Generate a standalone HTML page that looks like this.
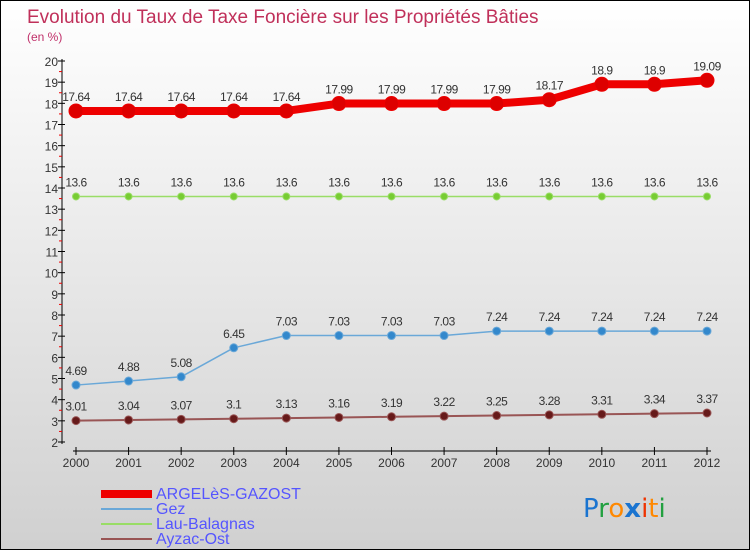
<!DOCTYPE html>
<html><head><meta charset="utf-8"><style>
body{margin:0}
#c{width:748px;height:548px;border:1px solid #000;background:linear-gradient(#ffffff,#d0d0d0);position:relative;font-family:"Liberation Sans",sans-serif;overflow:hidden}
</style></head><body>
<div id="c">
<svg id="s" width="748" height="548">
<text x="26" y="22" font-size="19" fill="#c0305a">Evolution du Taux de Taxe Foncière sur les Propriétés Bâties</text>
<text x="26" y="40" font-size="12" fill="#c0306a">(en %)</text>
<g id="axes"></g><g id="series"></g>
<g font-size="16" fill="#5555ff">
<rect x="100" y="489" width="51" height="8" fill="#ee0000"/>
<text x="155" y="498">ARGELèS-GAZOST</text>
<rect x="100" y="507" width="51" height="2" fill="#6aa8d8"/>
<text x="155" y="513">Gez</text>
<rect x="100" y="522" width="51" height="2" fill="#99dd66"/>
<text x="155" y="528">Lau-Balagnas</text>
<rect x="100" y="537" width="51" height="2" fill="#995555"/>
<text x="155" y="543">Ayzac-Ost</text>
</g>
<g font-size="26" font-family="'DejaVu Sans',sans-serif">
<text x="582" y="516"><tspan fill="#1a74d0">P</tspan><tspan fill="#22a040">r</tspan><tspan fill="#ff8800">o</tspan><tspan fill="#1a74d0" font-weight="bold">x</tspan><tspan fill="#ee3300">i</tspan><tspan fill="#ff8800">t</tspan><tspan fill="#22a040">i</tspan></text>
</g>
</svg>
</div>
<script>
const years=[2000,2001,2002,2003,2004,2005,2006,2007,2008,2009,2010,2011,2012];
const argeles=[17.64,17.64,17.64,17.64,17.64,17.99,17.99,17.99,17.99,18.17,18.9,18.9,19.09];
const gez=[4.69,4.88,5.08,6.45,7.03,7.03,7.03,7.03,7.24,7.24,7.24,7.24,7.24];
const lau=[13.6,13.6,13.6,13.6,13.6,13.6,13.6,13.6,13.6,13.6,13.6,13.6,13.6];
const ayzac=[3.01,3.04,3.07,3.1,3.13,3.16,3.19,3.22,3.25,3.28,3.31,3.34,3.37];
const yTicks=[2,3,4,5,6,7,8,9,10,11,12,13,14,15,16,17,18,19,20];
const NS="http://www.w3.org/2000/svg";
const X=i=>75+i*(706-75)/(years.length-1);
const Y=v=>441-(v-2)*(441-60)/18;
function mk(t,a,p){const e=document.createElementNS(NS,t);for(const k in a)e.setAttribute(k,a[k]);p.appendChild(e);return e;}
const ax=document.getElementById('axes');
let e=mk('line',{x1:61,y1:58,x2:61,y2:443,stroke:'#000'},ax);


e=mk('line',{x1:72,y1:450,x2:710,y2:450,stroke:'#000'},ax);


yTicks.forEach((v,k)=>{const y=Y(v);
 mk('line',{x1:57,y1:y,x2:64,y2:y,stroke:'#000'},ax);
 if(k<yTicks.length-1)mk('line',{x1:58,y1:Y(v+0.5),x2:61,y2:Y(v+0.5),stroke:'#e00'},ax);
 const t=mk('text',{x:57,y:y+5,'font-size':12,fill:'#333','text-anchor':'end'},ax);t.textContent=v;
 
 });
years.forEach((yr,i)=>{const x=X(i);
 mk('line',{x1:x,y1:446,x2:x,y2:454,stroke:'#000'},ax);
 const t=mk('text',{x:x,y:466,'font-size':12,fill:'#333','text-anchor':'middle'},ax);t.textContent=yr;
 
 });
const sg=document.getElementById('series');
function series(vals,name,color,w,r,mfill){
 const g=mk('g',{},sg);
 
 
 mk('polyline',{points:vals.map((v,i)=>X(i)+','+Y(v)).join(' '),fill:'none',stroke:color,'stroke-width':w,'stroke-linejoin':'round'},g);
 vals.forEach((v,i)=>{const c=mk('circle',{cx:X(i),cy:Y(v),r:r,fill:mfill,stroke:color,'stroke-width':1},g);
  
  
  const t=mk('text',{x:X(i),y:Y(v)-10,'font-size':12,fill:'#333','text-anchor':'middle','letter-spacing':'-0.5'},g);t.textContent=v;
  
  });
}
series(lau,'lau-balagnas','#99dd66',1.5,3.5,'#77cc33');
series(ayzac,'ayzac-ost','#995555',2,4,'#661a1a');
series(gez,'gez','#6aa8d8',1.5,4,'#3388cc');
series(argeles,'argeles-gazost','#ee0000',8,7,'#dd0000');
</script>
</body></html>
